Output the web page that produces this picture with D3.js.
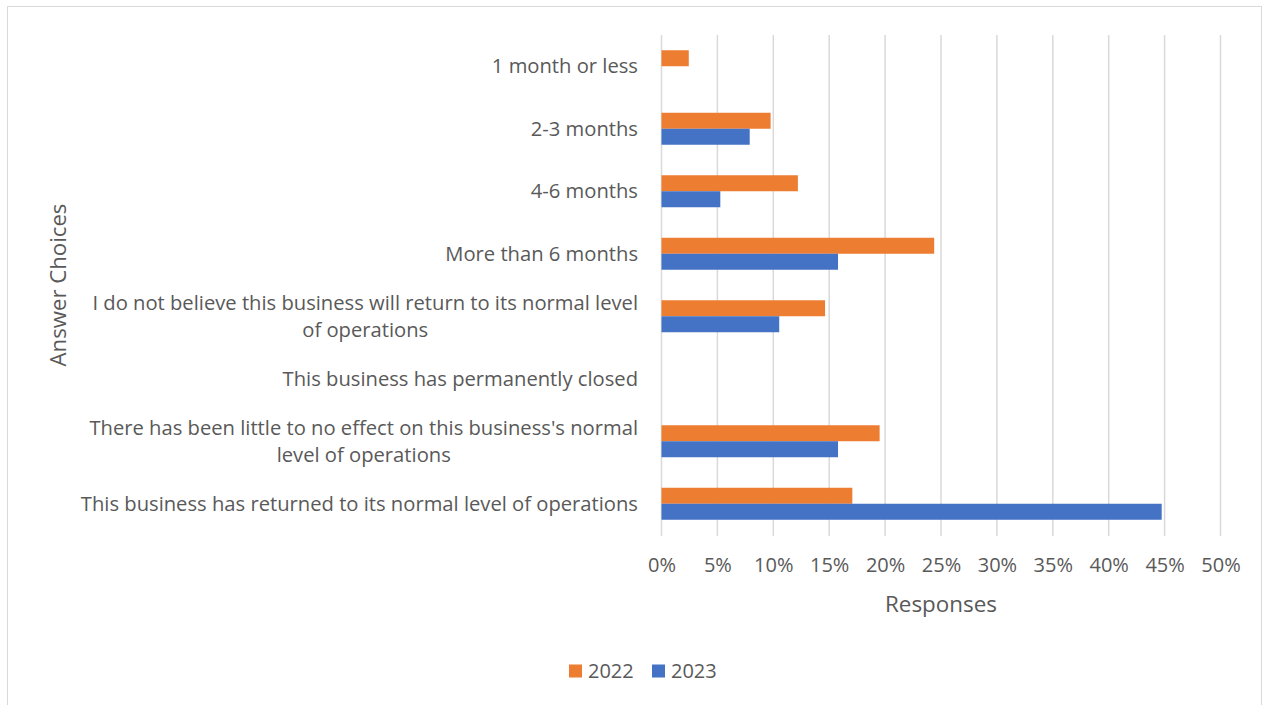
<!DOCTYPE html>
<html>
<head>
<meta charset="utf-8">
<script src="https://cdn.jsdelivr.net/npm/d3@7"></script>
<style>
  html, body { margin: 0; padding: 0; background: #fff; }
  svg { display: block; font-family: "Open Sans", "Noto Sans", sans-serif; }
</style>
</head>
<body>
<svg id="chart" width="1270" height="705"></svg>
<script>
// Answer choices, top to bottom; "\n" marks a line break in the label
const categories = [
  "1 month or less",
  "2-3 months",
  "4-6 months",
  "More than 6 months",
  "I do not believe this business will return to its normal level\nof operations",
  "This business has permanently closed",
  "There has been little to no effect on this business's normal\nlevel of operations",
  "This business has returned to its normal level of operations"
];
const seriesNames = ["2022", "2023"];
// Share of responses, in percent
const values2022 = [2.44, 9.76, 12.20, 24.39, 14.63, 0, 19.51, 17.07];
const values2023 = [0, 7.89, 5.26, 15.79, 10.53, 0, 15.79, 44.74];
const xTicks = [0, 5, 10, 15, 20, 25, 30, 35, 40, 45, 50];
const colors = ["#ED7D31", "#4472C4"];

const svg = d3.select("#chart");
const textColor = "#595959";

// outer frame
svg.append("rect")
  .attr("x", 7.5).attr("y", 6.5)
  .attr("width", 1254).attr("height", 720)
  .attr("fill", "none").attr("stroke", "#d9d9d9").attr("stroke-width", 1);

const plot = { left: 661.5, right: 1220.5, top: 35, bottom: 535 };

const x = d3.scaleLinear().domain([0, 50]).range([plot.left, plot.right]);
const y = d3.scaleBand().domain(categories)
  .range([plot.top, plot.bottom]).paddingInner(0.488).paddingOuter(0.244);
const ySub = d3.scaleBand().domain(seriesNames).range([0, y.bandwidth()]);

// vertical gridlines
svg.append("g").selectAll("line").data(xTicks).join("line")
  .attr("x1", d => x(d)).attr("x2", d => x(d))
  .attr("y1", plot.top).attr("y2", plot.bottom + 1)
  .attr("stroke", "#d9d9d9").attr("stroke-width", 1.5);

// bars
const rows = categories.map((c, i) => ({ c, vals: [values2022[i], values2023[i]] }));
const groups = svg.append("g").selectAll("g").data(rows).join("g")
  .attr("transform", d => `translate(0,${y(d.c)})`);
groups.selectAll("rect")
  .data(d => d.vals.map((v, k) => ({ v, k })).filter(e => e.v > 0))
  .join("rect")
  .attr("x", x(0))
  .attr("y", e => ySub(seriesNames[e.k]))
  .attr("width", e => x(e.v) - x(0))
  .attr("height", ySub.bandwidth())
  .attr("fill", e => colors[e.k]);

// x axis tick labels
const xAxis = d3.axisBottom(x).tickValues(xTicks).tickFormat(d => d + "%").tickSize(0).tickPadding(0);
const gx = svg.append("g").attr("transform", `translate(0,${plot.bottom})`).call(xAxis);
gx.select(".domain").remove();
gx.selectAll("text")
  .attr("y", 30).attr("dy", "0.35em")
  .attr("fill", textColor).style("font-size", "20px")
  .style("font-family", '"Open Sans", sans-serif');

// category labels: block right-aligned, lines centred within the block
const labelSize = 20.2;
const lineH = 27;
const labelG = svg.append("g").style("font-size", labelSize + "px").attr("fill", textColor);
categories.forEach(c => {
  const lines = c.split("\n");
  const cy = y(c) + y.bandwidth() / 2;
  const g = labelG.append("g");
  const texts = lines.map((ln, i) => g.append("text")
    .attr("y", cy + (i - (lines.length - 1) / 2) * lineH)
    .attr("dy", "0.35em")
    .text(ln));
  const widths = texts.map(t => t.node().getComputedTextLength());
  const w = d3.max(widths);
  const rightEdge = 638;
  texts.forEach(t => t.attr("x", rightEdge - w / 2).attr("text-anchor", "middle"));
});

// axis titles
svg.append("text")
  .attr("x", (plot.left + plot.right) / 2).attr("y", 604).attr("dy", "0.35em")
  .attr("text-anchor", "middle").attr("fill", textColor)
  .style("font-size", "22.4px").text("Responses");
svg.append("text")
  .attr("transform", "translate(58,285) rotate(-90)").attr("dy", "0.35em")
  .attr("text-anchor", "middle").attr("fill", textColor)
  .style("font-size", "22.2px").text("Answer Choices");

// legend
const legend = svg.append("g").attr("transform", "translate(569,671)");
const legendX = [0, 83];
seriesNames.forEach((s, i) => {
  const g = legend.append("g").attr("transform", `translate(${legendX[i]},0)`);
  g.append("rect").attr("x", 0).attr("y", -6.5).attr("width", 13).attr("height", 13).attr("fill", colors[i]);
  g.append("text").attr("x", 19).attr("dy", "0.35em")
    .attr("fill", textColor).style("font-size", "20px").text(s);
});
</script>
</body>
</html>
